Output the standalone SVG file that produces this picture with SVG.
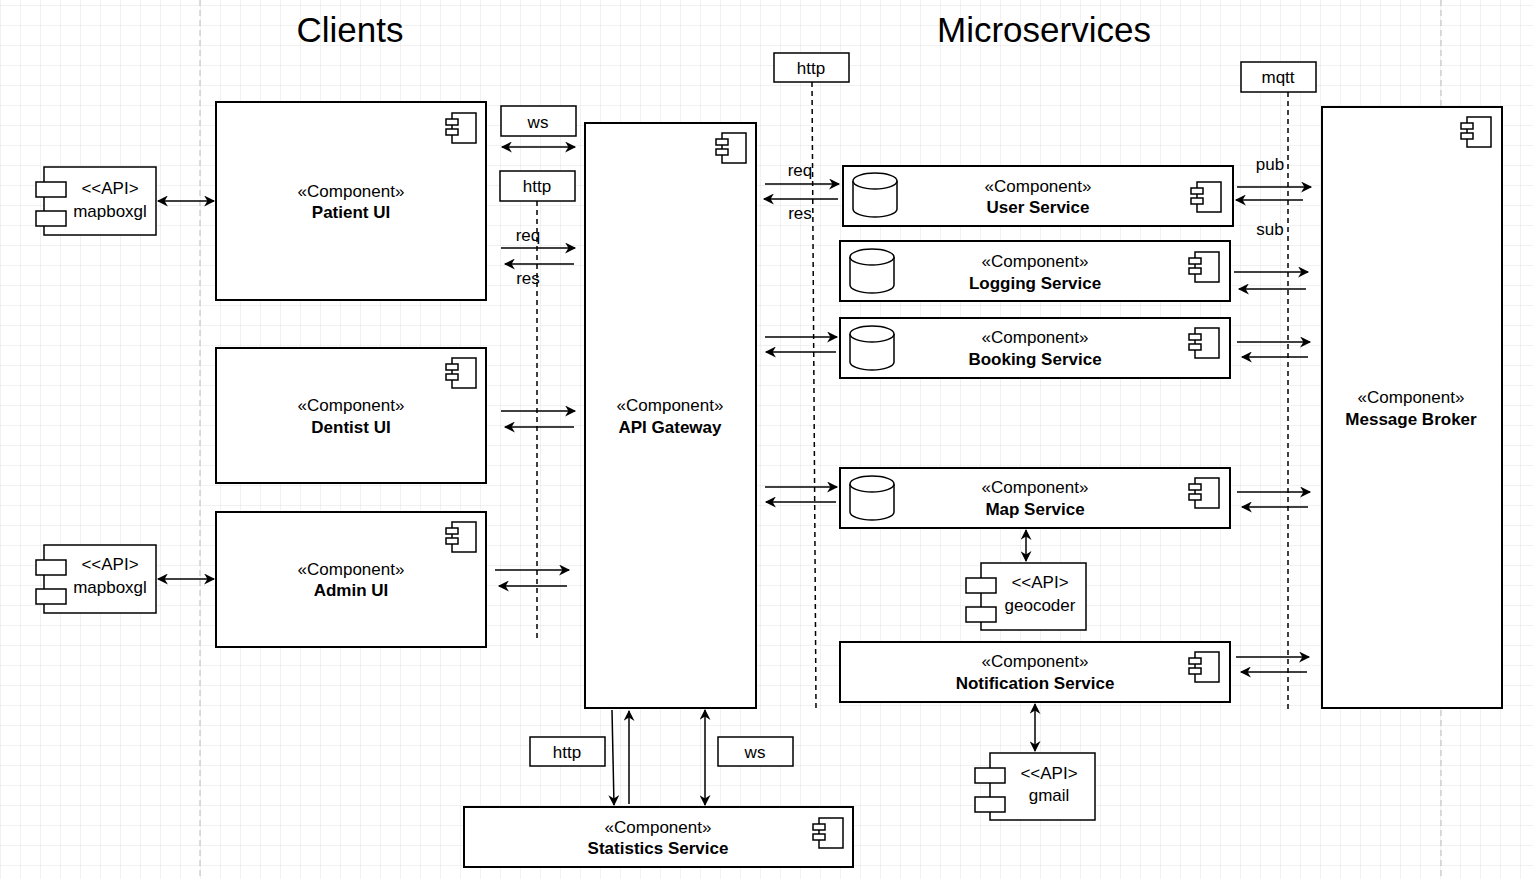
<svg xmlns="http://www.w3.org/2000/svg" width="1533" height="879" viewBox="0 0 1533 879">
<defs>
<pattern id="g" width="20" height="20" patternUnits="userSpaceOnUse" x="1" y="6"><path d="M20 0V20M0 20H20" fill="none" stroke="#e2e2e2" stroke-width="1"/></pattern>
<marker id="a" viewBox="0 0 10 10" refX="9" refY="5" markerWidth="12" markerHeight="11" orient="auto-start-reverse" markerUnits="userSpaceOnUse"><path d="M0 0L10 5L0 10L3 5Z" fill="#000"/></marker>
<symbol id="ic" viewBox="0 0 30 30" overflow="visible"><rect x="6" y="0" width="24" height="30" fill="#fff" stroke="#000" stroke-width="1.5"/><rect x="0" y="6" width="12" height="6" fill="#fff" stroke="#000" stroke-width="1.5"/><rect x="0" y="16" width="12" height="6" fill="#fff" stroke="#000" stroke-width="1.5"/></symbol>
<symbol id="cy" viewBox="0 0 46 46" overflow="visible"><path d="M1 9V37A22 8 0 0 0 45 37V9" fill="#fff" stroke="#000" stroke-width="1.5"/><ellipse cx="23" cy="9" rx="22" ry="8" fill="#fff" stroke="#000" stroke-width="1.5"/></symbol>
</defs>
<style>
.b{fill:#fff;stroke:#000;stroke-width:2}
.l{fill:#fff;stroke:#000;stroke-width:1.5}
text{font-family:"Liberation Sans",Arial,sans-serif;font-size:17px;text-anchor:middle;fill:#000}
.bd{font-weight:bold}
.t{font-size:35px}
.c line,.c path{stroke:#000;stroke-width:1.5;fill:none}
.d{stroke-dasharray:5 4}
.ar{marker-end:url(#a)}
.da{marker-start:url(#a);marker-end:url(#a)}
</style>
<rect width="1533" height="879" fill="#fff"/>
<rect width="1533" height="879" fill="url(#g)"/>
<line x1="200" y1="0" x2="200" y2="879" stroke="#bbb" stroke-dasharray="6 4"/>
<line x1="1441" y1="0" x2="1441" y2="879" stroke="#bbb" stroke-dasharray="6 4"/>
<text x="350" y="42" class="t">Clients</text>
<text x="1044" y="42" class="t">Microservices</text>

<g class="c">
<line x1="537" y1="201" x2="537" y2="638" class="d"/>
<line x1="812" y1="82" x2="816" y2="708" class="d"/>
<line x1="1288" y1="92" x2="1288" y2="712" class="d"/>
<line x1="158" y1="201" x2="214" y2="201" class="da"/>
<line x1="158" y1="579" x2="214" y2="579" class="da"/>
<line x1="502" y1="147" x2="575" y2="147" class="da"/>
<line x1="501" y1="248" x2="575" y2="248" class="ar"/>
<line x1="574" y1="264" x2="505" y2="264" class="ar"/>
<line x1="501" y1="411" x2="575" y2="411" class="ar"/>
<line x1="574" y1="427" x2="505" y2="427" class="ar"/>
<line x1="495" y1="570" x2="569" y2="570" class="ar"/>
<line x1="567" y1="586" x2="499" y2="586" class="ar"/>
<line x1="765" y1="184" x2="839" y2="184" class="ar"/>
<line x1="838" y1="199" x2="764" y2="199" class="ar"/>
<line x1="765" y1="337" x2="837" y2="337" class="ar"/>
<line x1="836" y1="352" x2="766" y2="352" class="ar"/>
<line x1="765" y1="487" x2="837" y2="487" class="ar"/>
<line x1="836" y1="502" x2="766" y2="502" class="ar"/>
<line x1="1237" y1="187" x2="1311" y2="187" class="ar"/>
<line x1="1303" y1="200" x2="1236" y2="200" class="ar"/>
<line x1="1234" y1="272" x2="1308" y2="272" class="ar"/>
<line x1="1306" y1="289" x2="1239" y2="289" class="ar"/>
<line x1="1237" y1="342" x2="1310" y2="342" class="ar"/>
<line x1="1308" y1="357" x2="1242" y2="357" class="ar"/>
<line x1="1237" y1="492" x2="1310" y2="492" class="ar"/>
<line x1="1308" y1="507" x2="1242" y2="507" class="ar"/>
<line x1="1236" y1="657" x2="1309" y2="657" class="ar"/>
<line x1="1307" y1="672" x2="1241" y2="672" class="ar"/>
<line x1="1026" y1="530" x2="1026" y2="561" class="da"/>
<line x1="1035" y1="704" x2="1035" y2="751" class="da"/>
<line x1="612" y1="710" x2="614" y2="805" class="ar"/>
<line x1="629" y1="804" x2="629" y2="711" class="ar"/>
<line x1="705" y1="710" x2="705" y2="805" class="da"/>
</g>

<g id="labels">
<rect x="501" y="106" width="75" height="30" class="l"/><text x="538" y="128">ws</text>
<rect x="500" y="171" width="75" height="30" class="l"/><text x="537" y="192">http</text>
<rect x="774" y="53" width="75" height="29" class="l"/><text x="811" y="74">http</text>
<rect x="1241" y="62" width="75" height="30" class="l"/><text x="1278" y="83">mqtt</text>
<rect x="530" y="737" width="75" height="29" class="l"/><text x="567" y="758">http</text>
<rect x="718" y="737" width="75" height="29" class="l"/><text x="755" y="758">ws</text>
<text x="528" y="241">req</text><text x="528" y="284">res</text>
<text x="800" y="176">req</text><text x="800" y="219">res</text>
<text x="1270" y="170">pub</text><text x="1270" y="235">sub</text>
</g>

<g id="mapbox1"><rect x="44" y="167" width="112" height="68" class="l"/><rect x="36" y="182" width="30" height="15" class="l"/><rect x="36" y="211" width="30" height="15" class="l"/><text x="110" y="194">&lt;&lt;API&gt;</text><text x="110" y="217">mapboxgl</text></g>
<g id="mapbox2"><rect x="44" y="545" width="112" height="68" class="l"/><rect x="36" y="560" width="30" height="15" class="l"/><rect x="36" y="589" width="30" height="15" class="l"/><text x="110" y="570">&lt;&lt;API&gt;</text><text x="110" y="593">mapboxgl</text></g>
<g id="geocoder"><rect x="981" y="563" width="105" height="67" class="l"/><rect x="966" y="578" width="30" height="15" class="l"/><rect x="966" y="607" width="30" height="15" class="l"/><text x="1040" y="588">&lt;&lt;API&gt;</text><text x="1040" y="611">geocoder</text></g>
<g id="gmail"><rect x="990" y="753" width="105" height="67" class="l"/><rect x="975" y="768" width="30" height="15" class="l"/><rect x="975" y="797" width="30" height="15" class="l"/><text x="1049" y="779">&lt;&lt;API&gt;</text><text x="1049" y="801">gmail</text></g>

<g id="patient"><rect x="216" y="102" width="270" height="198" class="b"/><use href="#ic" x="446" y="113" width="30" height="30"/><text x="351" y="197">«Component»</text><text x="351" y="218" class="bd">Patient UI</text></g>
<g id="dentist"><rect x="216" y="348" width="270" height="135" class="b"/><use href="#ic" x="446" y="358" width="30" height="30"/><text x="351" y="411">«Component»</text><text x="351" y="433" class="bd">Dentist UI</text></g>
<g id="admin"><rect x="216" y="512" width="270" height="135" class="b"/><use href="#ic" x="446" y="522" width="30" height="30"/><text x="351" y="575">«Component»</text><text x="351" y="596" class="bd">Admin UI</text></g>
<g id="gateway"><rect x="585" y="123" width="171" height="585" class="b"/><use href="#ic" x="716" y="133" width="30" height="30"/><text x="670" y="411">«Component»</text><text x="670" y="433" class="bd">API Gateway</text></g>
<g id="user"><rect x="843" y="166" width="390" height="60" class="b"/><use href="#cy" x="852" y="172" width="46" height="46"/><use href="#ic" x="1191" y="182" width="30" height="30"/><text x="1038" y="192">«Component»</text><text x="1038" y="213" class="bd">User Service</text></g>
<g id="logging"><rect x="840" y="241" width="390" height="60" class="b"/><use href="#cy" x="849" y="248" width="46" height="46"/><use href="#ic" x="1189" y="252" width="30" height="30"/><text x="1035" y="267">«Component»</text><text x="1035" y="289" class="bd">Logging Service</text></g>
<g id="booking"><rect x="840" y="318" width="390" height="60" class="b"/><use href="#cy" x="849" y="325" width="46" height="46"/><use href="#ic" x="1189" y="328" width="30" height="30"/><text x="1035" y="343">«Component»</text><text x="1035" y="365" class="bd">Booking Service</text></g>
<g id="map"><rect x="840" y="468" width="390" height="60" class="b"/><use href="#cy" x="849" y="475" width="46" height="46"/><use href="#ic" x="1189" y="478" width="30" height="30"/><text x="1035" y="493">«Component»</text><text x="1035" y="515" class="bd">Map Service</text></g>
<g id="notification"><rect x="840" y="642" width="390" height="60" class="b"/><use href="#ic" x="1189" y="652" width="30" height="30"/><text x="1035" y="667">«Component»</text><text x="1035" y="689" class="bd">Notification Service</text></g>
<g id="broker"><rect x="1322" y="107" width="180" height="601" class="b"/><use href="#ic" x="1461" y="117" width="30" height="30"/><text x="1411" y="403">«Component»</text><text x="1411" y="425" class="bd">Message Broker</text></g>
<g id="statistics"><rect x="464" y="807" width="389" height="60" class="b"/><use href="#ic" x="813" y="818" width="30" height="30"/><text x="658" y="833">«Component»</text><text x="658" y="854" class="bd">Statistics Service</text></g>
</svg>
